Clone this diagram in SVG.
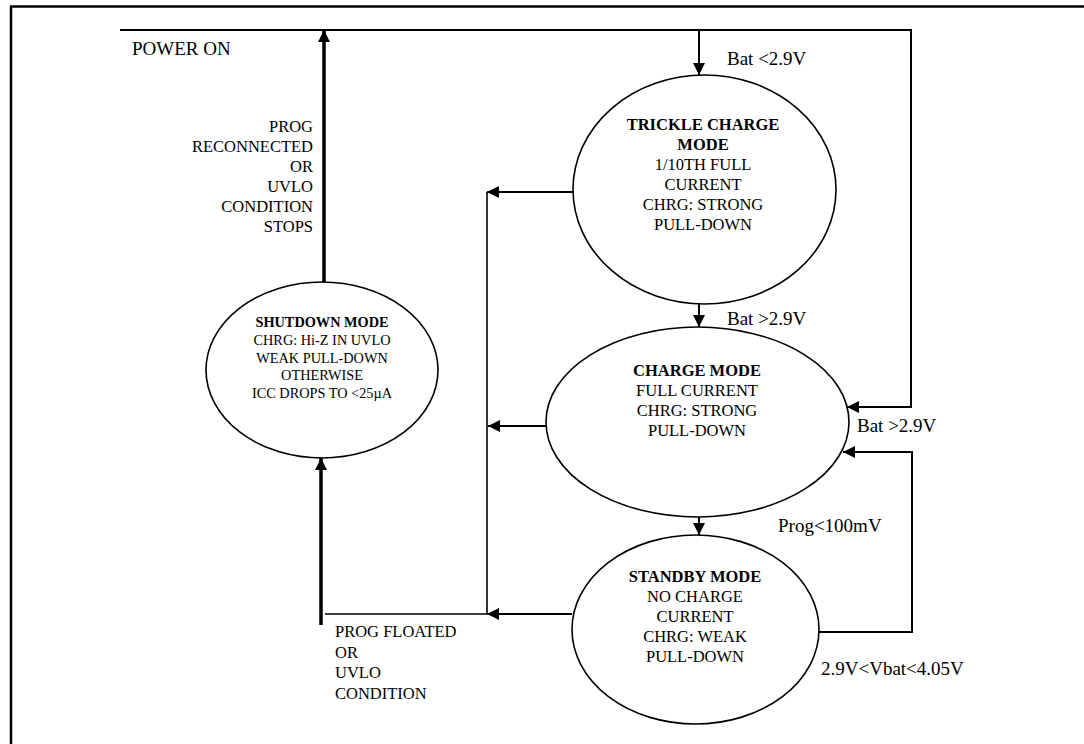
<svg xmlns="http://www.w3.org/2000/svg" width="1084" height="744" viewBox="0 0 1084 744">
<style>
.t{font-family:"Liberation Serif","Times New Roman",serif;fill:#000}
.n{font-size:16.5px;text-anchor:middle}
.s{font-size:14.3px;text-anchor:middle}
.b{font-weight:bold}
.e{font-size:19px}
.c{font-size:16.5px}
.ln{fill:none;stroke:#000;stroke-width:2}
.th{fill:none;stroke:#000;stroke-width:1.6}
.tk{fill:none;stroke:#000;stroke-width:3.5}
.el{fill:#fff;stroke:#000;stroke-width:1.6}
</style>
<defs>
<marker id="ah" markerUnits="userSpaceOnUse" markerWidth="12" markerHeight="12" refX="12" refY="6" orient="auto" viewBox="0 0 12 12">
<path d="M0,0 L12,6 L0,12 z" fill="#000"/>
</marker>
</defs>
<rect width="1084" height="744" fill="#fff"/>
<g id="frame">
<line x1="10" y1="6.5" x2="1084" y2="6.5" stroke="#000" stroke-width="2.5"/>
<line x1="11" y1="6" x2="11" y2="744" stroke="#000" stroke-width="2.5"/>
</g>
<g id="connectors">
<path class="ln" d="M120,30 H911 V407 H847" marker-end="url(#ah)"/>
<line class="ln" x1="699" y1="30" x2="699" y2="75" marker-end="url(#ah)"/>
<line class="tk" x1="324" y1="282" x2="324" y2="30" marker-end="url(#ah)"/>
<line class="ln" x1="699" y1="304" x2="699" y2="327" marker-end="url(#ah)"/>
<line class="ln" x1="699" y1="510" x2="699" y2="535" marker-end="url(#ah)"/>
<line class="ln" x1="573" y1="192" x2="487" y2="192" marker-end="url(#ah)"/>
<line class="ln" x1="546" y1="426" x2="488" y2="426" marker-end="url(#ah)"/>
<line class="ln" x1="572" y1="614" x2="487" y2="614" marker-end="url(#ah)"/>
<line class="th" x1="487" y1="192" x2="487" y2="614"/>
<line class="th" x1="325" y1="614" x2="487" y2="614"/>
<line class="tk" x1="321" y1="625" x2="321" y2="458" marker-end="url(#ah)"/>
<path class="ln" d="M819,632 H912 V452 H843" marker-end="url(#ah)"/>
</g>
<g id="labels">
<text class="t e" x="132" y="55">POWER ON</text>
<text class="t c" text-anchor="end"><tspan x="313" y="132">PROG</tspan><tspan x="313" y="152">RECONNECTED</tspan><tspan x="313" y="172">OR</tspan><tspan x="313" y="192">UVLO</tspan><tspan x="313" y="212">CONDITION</tspan><tspan x="313" y="232">STOPS</tspan></text>
<text class="t e" x="727" y="65">Bat &lt;2.9V</text>
<text class="t e" x="727" y="325">Bat &gt;2.9V</text>
<text class="t e" x="857" y="432">Bat &gt;2.9V</text>
<text class="t e" x="778" y="532">Prog&lt;100mV</text>
<text class="t e" x="821" y="675">2.9V&lt;Vbat&lt;4.05V</text>
<text class="t c"><tspan x="335" y="637">PROG FLOATED</tspan><tspan x="335" y="657.5">OR</tspan><tspan x="335" y="678">UVLO</tspan><tspan x="335" y="698.5">CONDITION</tspan></text>
</g>
<g id="trickle">
<ellipse class="el" cx="704.5" cy="189.5" rx="131.5" ry="114.5"/>
<text class="t n"><tspan class="b" x="703" y="130">TRICKLE CHARGE</tspan><tspan class="b" x="703" y="150">MODE</tspan><tspan x="703" y="170">1/10TH FULL</tspan><tspan x="703" y="190">CURRENT</tspan><tspan x="703" y="210">CHRG: STRONG</tspan><tspan x="703" y="230">PULL-DOWN</tspan></text>
</g>
<g id="charge">
<ellipse class="el" cx="697.5" cy="422" rx="151.5" ry="95"/>
<text class="t n"><tspan class="b" x="697" y="376">CHARGE MODE</tspan><tspan x="697" y="396">FULL CURRENT</tspan><tspan x="697" y="416">CHRG: STRONG</tspan><tspan x="697" y="436">PULL-DOWN</tspan></text>
</g>
<g id="standby">
<ellipse class="el" cx="695.5" cy="629.5" rx="123.5" ry="94.5"/>
<text class="t n"><tspan class="b" x="695" y="582">STANDBY MODE</tspan><tspan x="695" y="602">NO CHARGE</tspan><tspan x="695" y="622">CURRENT</tspan><tspan x="695" y="642">CHRG: WEAK</tspan><tspan x="695" y="662">PULL-DOWN</tspan></text>
</g>
<g id="shutdown">
<ellipse class="el" cx="322" cy="370" rx="116" ry="88"/>
<text class="t s"><tspan class="b" x="322" y="327">SHUTDOWN MODE</tspan><tspan x="322" y="344.75">CHRG: Hi-Z IN UVLO</tspan><tspan x="322" y="362.5">WEAK PULL-DOWN</tspan><tspan x="322" y="380.25">OTHERWISE</tspan><tspan x="322" y="398">ICC DROPS TO &lt;25µA</tspan></text>
</g>
</svg>
